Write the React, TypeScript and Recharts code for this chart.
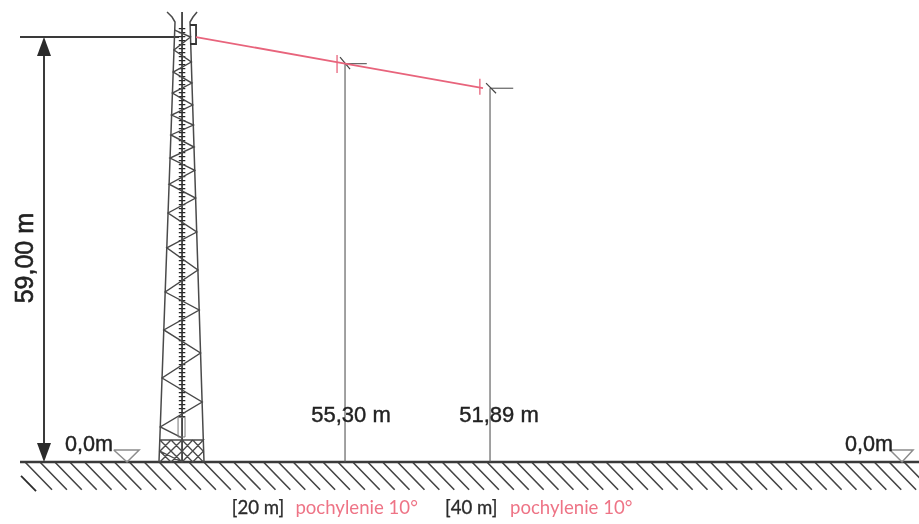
import React from "react";
import { LineChart, Line, XAxis, YAxis, ReferenceDot } from "recharts";

// All values are metres: x = distance from the reference point on the ground, y = height.
const xDomain = [-27.59, 99.17];
const yDomain = [-8.61, 64.14];

const TOP_HEIGHT = 59;
const SECTOR_20 = { x: 20, y: 55.3 };
const SECTOR_40 = { x: 40, y: 51.89 };

const leftLegX = [-5.66, -3.45, -3.86, -4.55];
const leftLegY = [0, 61.08, 61.78, 62.47];
const rightLegX = [0.55, -1.38, -0.97, -0.41];
const rightLegY = [0, 61.08, 61.78, 62.47];
const mastX = [-2.48, -2.48];
const mastY = [0, 62.47];
const rungX = [-2.48, -2.48];
const rungY = [6.2, 60.6];

const latticeX = [-2.48, -5.48, 0.29, -5.23, 0.07, -4.99, -0.12, -4.8, -0.29, -4.58, -0.45, -4.41, -0.61, -4.26, -0.73, -4.13, -0.83, -4.01, -0.92, -3.92, -1.02, -3.81, -1.12, -3.7, -1.2, -3.59, -1.31, -3.49];
const latticeY = [3.33, 4.86, 8.33, 11.66, 15.13, 18.33, 21.1, 23.6, 26.66, 29.72, 31.93, 34.57, 36.65, 38.56, 40.5, 42.2, 43.73, 45.4, 46.78, 48.17, 49.56, 51.22, 52.61, 54.14, 55.53, 57.2, 59.0, 59.97];

const baseLatticeX = [-5.54, 0.46, -2.48, -5.54, -4.0, -2.48, -4.0, -5.54, null, -2.48, -1.0, 0.46, -1.0, -2.48, null, -5.54, -2.48, 0.46, null, -5.54, -2.48, 0.46];
const baseLatticeY = [3.05, 3.05, 0, 1.5, 3.05, 1.5, 0, 1.5, null, 1.5, 3.05, 1.5, 0, 1.5, null, 0, 3.05, 0, null, 3.05, 0, 3.05];
const ladderBoxX = [-3.03, -2.07, -2.07, -3.03, -3.03];
const ladderBoxY = [3.47, 3.47, 6.2, 6.2, 3.47];
const bracketX = [-1.38, -0.55, -0.55, -1.38];
const bracketY = [60.67, 60.67, 58.03, 58.03];

const hatchStarts = [-24.14, -22.08, -20.03, -17.97, -15.92, -13.86, -11.81, -9.75, -7.7, -5.64, -3.59, -1.53, 0.52, 2.58, 4.63, 6.69, 8.74, 10.8, 12.85, 14.91, 16.96, 19.02, 21.07, 23.13, 25.18, 27.24, 29.29, 31.35, 33.4, 35.46, 37.51, 39.57, 41.62, 43.68, 45.73, 47.79, 49.84, 51.9, 53.95, 56.01, 58.06, 60.12, 62.17, 64.23, 66.28, 68.34, 70.39, 72.45, 74.5, 76.56, 78.61, 80.67, 82.72, 84.78, 86.83, 88.89, 90.94, 93.0, 95.05, 97.11, 99.16];

const levelMarkers = [
  { x: [-11.9, -8.4, -10.07, -11.9], y: [1.67, 1.67, 0, 1.67] },
  { x: [95.17, 98.35, 96.83, 95.17], y: [1.67, 1.67, 0, 1.67] },
];

const labels = [
  { x: -24.28, y: 28.3, text: "59,00 m", kind: "vertical" },
  { x: 20.83, y: 6.66, text: "55,30 m", kind: "dim" },
  { x: 41.24, y: 6.66, text: "51,89 m", kind: "dim" },
  { x: -15.31, y: 2.5, text: "0,0m", kind: "level" },
  { x: 92.28, y: 2.5, text: "0,0m", kind: "level" },
  { x: 8.0, y: -6.25, text: "[20 m]", kind: "note" },
  { x: 21.6, y: -6.25, text: "pochylenie 10°", kind: "tilt" },
  { x: 37.4, y: -6.25, text: "[40 m]", kind: "note" },
  { x: 51.2, y: -6.25, text: "pochylenie 10°", kind: "tilt" },
];

const DARK = "#3a3a3a";
const PINK = "#e8647c";
const SOFT = "#8c8c8c";

const zip = (xs: (number | null)[], ys: (number | null)[]) => xs.map((x, i) => ({ x, y: ys[i] }));

const hatchRows = hatchStarts.flatMap((x) => [
  { x, y: 0 },
  { x: x + 3.72, y: -3.85 },
  { x: x + 3.72, y: null },
]);

const textStyles: Record<string, any> = {
  vertical: { fontFamily: "Liberation Sans", fontSize: 25, fill: "#222222", stroke: "#222222", strokeWidth: 0.6 },
  dim: { fontFamily: "Liberation Sans", fontSize: 22, fill: "#222222", stroke: "#222222", strokeWidth: 0.4 },
  level: { fontFamily: "Liberation Sans", fontSize: 21.6, fill: "#222222", stroke: "#222222", strokeWidth: 0.4 },
  note: { fontFamily: "Lato", fontSize: 18.6, fill: "#2b2b2b", stroke: "#2b2b2b", strokeWidth: 0.3 },
  tilt: { fontFamily: "Lato", fontSize: 18.6, fill: "#ee7486" },
};

const seg = (key: string, data: any[], stroke = DARK, strokeWidth = 1.2, extra: any = {}) => (
  <Line
    key={key}
    data={data}
    dataKey="y"
    type="linear"
    stroke={stroke}
    strokeWidth={strokeWidth}
    dot={false}
    activeDot={false}
    isAnimationActive={false}
    legendType="none"
    {...extra}
  />
);

const arrowShape = (dir: number) => (p: any) => (
  <path
    d={`M${p.cx} ${p.cy}L${p.cx - 7} ${p.cy + dir * 19}L${p.cx + 7} ${p.cy + dir * 19}Z`}
    fill="#2b2b2b"
  />
);

const labelShape = (text: string, kind: string) => (p: any) => (
  <text
    x={p.cx}
    y={p.cy}
    textAnchor="middle"
    dominantBaseline="central"
    transform={kind === "vertical" ? `rotate(-90 ${p.cx} ${p.cy})` : undefined}
    {...textStyles[kind]}
  >
    {text}
  </text>
);

export default function App() {
  return (
    <div style={{ position: "absolute", left: 0, top: 0, width: 919, height: 524, filter: "blur(0.35px)" }}>
      <LineChart width={919} height={524} margin={{ top: 0, right: 0, bottom: 0, left: 0 }}>
        <XAxis type="number" dataKey="x" domain={xDomain} hide allowDataOverflow />
        <YAxis type="number" domain={yDomain} hide allowDataOverflow />

        {seg("hatch", hatchRows, "#444444", 1.6)}
        {seg("strayHatch", zip([-24.69, -22.62], [-1.94, -4.03]), "#2b2b2b", 1.8)}
        {seg("ground", zip([-24.83, 99.17], [0, 0]), "#3a3a3a", 2.4)}

        {levelMarkers.map((m, i) => seg(`level${i}`, zip(m.x, m.y), SOFT, 1.5))}

        {seg("cableTop", zip([-24.83, -2.9], [TOP_HEIGHT, TOP_HEIGHT]), "#3a3a3a", 2)}
        {seg("dimShaft", zip([-21.52, -21.52], [0.5, TOP_HEIGHT - 0.5]), "#3a3a3a", 2)}

        {seg("rungs", zip(rungX, rungY), "#262626", 6.5, { strokeDasharray: "1.3 2.7" })}
        {seg("mast", zip(mastX, mastY), "#333333", 1.7)}
        {seg("legL", zip(leftLegX, leftLegY), "#4a4a4a", 1.5)}
        {seg("legR", zip(rightLegX, rightLegY), "#4a4a4a", 1.5)}
        {seg("lattice", zip(latticeX, latticeY), "#484848", 1.4)}
        {seg("baseLattice", zip(baseLatticeX, baseLatticeY), "#4a4a4a", 1.3)}
        {seg("ladderBox", zip(ladderBoxX, ladderBoxY), "#777777", 1)}
        {seg("bracket", zip(bracketX, bracketY), "#333333", 1.8)}

        {seg("drop20", zip([SECTOR_20.x, SECTOR_20.x], [0, SECTOR_20.y]), "#555555", 1.1)}
        {seg("drop40", zip([SECTOR_40.x, SECTOR_40.x], [0, SECTOR_40.y]), "#555555", 1.1)}
        {seg("tick20H", zip([SECTOR_20.x, 23.0], [SECTOR_20.y, SECTOR_20.y]), "#555555", 1.1)}
        {seg("tick40H", zip([SECTOR_40.x, 43.2], [SECTOR_40.y, SECTOR_40.y]), "#555555", 1.1)}
        {seg("tick20D", zip([19.31, 20.69], [56.2, 54.54]), "#444444", 1.2)}
        {seg("tick40D", zip([39.45, 40.83], [52.6, 51.2]), "#444444", 1.2)}

        {seg("beam", zip([-0.55, SECTOR_20.x, 39.03], [TOP_HEIGHT, SECTOR_20.y, SECTOR_40.y]), PINK, 1.8)}
        {seg("redTick20", zip([18.9, 18.9], [54.0, 56.5]), PINK, 1.3)}
        {seg("redTick40", zip([38.6, 38.6], [51.0, 53.2]), PINK, 1.3)}

        <ReferenceDot x={-21.52} y={TOP_HEIGHT} r={0} shape={arrowShape(1)} ifOverflow="visible" />
        <ReferenceDot x={-21.52} y={0} r={0} shape={arrowShape(-1)} ifOverflow="visible" />

        {labels.map((l) => (
          <ReferenceDot
            key={`${l.text}${l.x}`}
            x={l.x}
            y={l.y}
            r={0}
            shape={labelShape(l.text, l.kind)}
            ifOverflow="visible"
          />
        ))}
      </LineChart>
    </div>
  );
}
